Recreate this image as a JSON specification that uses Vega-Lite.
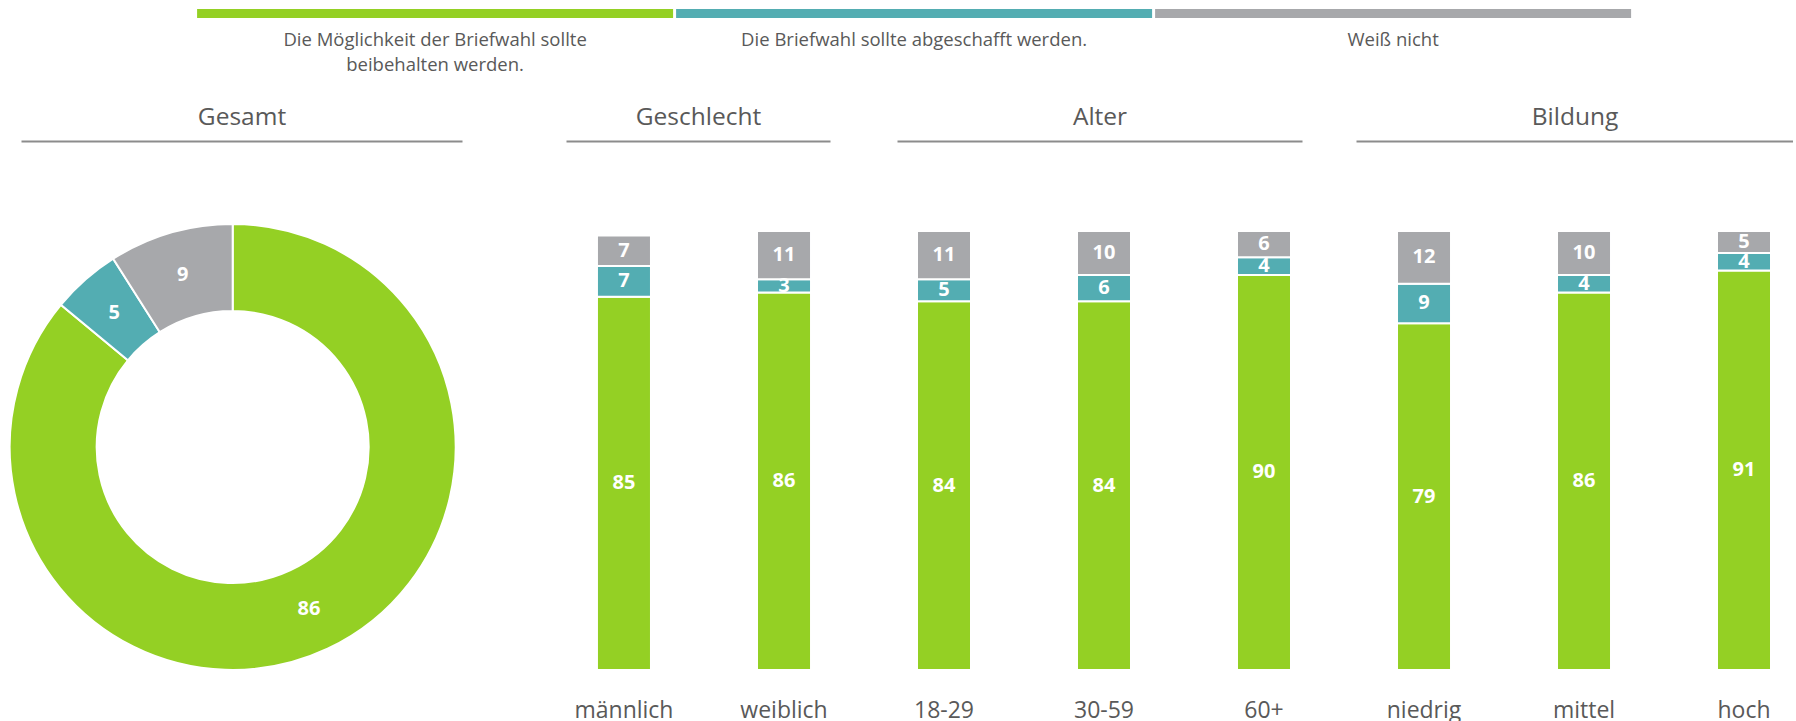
{
  "$schema": "https://vega.github.io/schema/vega-lite/v6.json",
  "background": "white",
  "padding": {"left": 5, "top": 9, "right": 0, "bottom": 0},
  "bounds": "flush",
  "spacing": 213,
  "config": {
    "view": {"stroke": null},
    "font": "Open Sans",
    "axis": {"labelFont": "Open Sans", "titleFont": "Open Sans", "labelColor": "#595959", "titleColor": "#595959", "titleFontWeight": "normal", "grid": false}
  },
  "datasets": {
    "gesamt": [
      {"antwort": "Die Möglichkeit der Briefwahl sollte beibehalten werden.", "wert": 86, "ord": 1},
      {"antwort": "Die Briefwahl sollte abgeschafft werden.", "wert": 5, "ord": 2},
      {"antwort": "Weiß nicht", "wert": 9, "ord": 3}
    ],
    "gruppen": [
      {"gruppe": "Geschlecht", "kat": "männlich", "antwort": "Die Möglichkeit der Briefwahl sollte beibehalten werden.", "wert": 85, "ord": 1},
      {"gruppe": "Geschlecht", "kat": "männlich", "antwort": "Die Briefwahl sollte abgeschafft werden.", "wert": 7, "ord": 2},
      {"gruppe": "Geschlecht", "kat": "männlich", "antwort": "Weiß nicht", "wert": 7, "ord": 3},
      {"gruppe": "Geschlecht", "kat": "weiblich", "antwort": "Die Möglichkeit der Briefwahl sollte beibehalten werden.", "wert": 86, "ord": 1},
      {"gruppe": "Geschlecht", "kat": "weiblich", "antwort": "Die Briefwahl sollte abgeschafft werden.", "wert": 3, "ord": 2},
      {"gruppe": "Geschlecht", "kat": "weiblich", "antwort": "Weiß nicht", "wert": 11, "ord": 3},
      {"gruppe": "Alter", "kat": "18-29", "antwort": "Die Möglichkeit der Briefwahl sollte beibehalten werden.", "wert": 84, "ord": 1},
      {"gruppe": "Alter", "kat": "18-29", "antwort": "Die Briefwahl sollte abgeschafft werden.", "wert": 5, "ord": 2},
      {"gruppe": "Alter", "kat": "18-29", "antwort": "Weiß nicht", "wert": 11, "ord": 3},
      {"gruppe": "Alter", "kat": "30-59", "antwort": "Die Möglichkeit der Briefwahl sollte beibehalten werden.", "wert": 84, "ord": 1},
      {"gruppe": "Alter", "kat": "30-59", "antwort": "Die Briefwahl sollte abgeschafft werden.", "wert": 6, "ord": 2},
      {"gruppe": "Alter", "kat": "30-59", "antwort": "Weiß nicht", "wert": 10, "ord": 3},
      {"gruppe": "Alter", "kat": "60+", "antwort": "Die Möglichkeit der Briefwahl sollte beibehalten werden.", "wert": 90, "ord": 1},
      {"gruppe": "Alter", "kat": "60+", "antwort": "Die Briefwahl sollte abgeschafft werden.", "wert": 4, "ord": 2},
      {"gruppe": "Alter", "kat": "60+", "antwort": "Weiß nicht", "wert": 6, "ord": 3},
      {"gruppe": "Bildung", "kat": "niedrig", "antwort": "Die Möglichkeit der Briefwahl sollte beibehalten werden.", "wert": 79, "ord": 1},
      {"gruppe": "Bildung", "kat": "niedrig", "antwort": "Die Briefwahl sollte abgeschafft werden.", "wert": 9, "ord": 2},
      {"gruppe": "Bildung", "kat": "niedrig", "antwort": "Weiß nicht", "wert": 12, "ord": 3},
      {"gruppe": "Bildung", "kat": "mittel", "antwort": "Die Möglichkeit der Briefwahl sollte beibehalten werden.", "wert": 86, "ord": 1},
      {"gruppe": "Bildung", "kat": "mittel", "antwort": "Die Briefwahl sollte abgeschafft werden.", "wert": 4, "ord": 2},
      {"gruppe": "Bildung", "kat": "mittel", "antwort": "Weiß nicht", "wert": 10, "ord": 3},
      {"gruppe": "Bildung", "kat": "hoch", "antwort": "Die Möglichkeit der Briefwahl sollte beibehalten werden.", "wert": 91, "ord": 1},
      {"gruppe": "Bildung", "kat": "hoch", "antwort": "Die Briefwahl sollte abgeschafft werden.", "wert": 4, "ord": 2},
      {"gruppe": "Bildung", "kat": "hoch", "antwort": "Weiß nicht", "wert": 5, "ord": 3}
    ]
  },
  "vconcat": [
    {
      "width": 1772,
      "height": 9,
      "data": {"name": "gesamt"},
      "mark": {"type": "bar"},
      "encoding": {
        "x": {"field": "antwort", "type": "nominal", "sort": null,
          "scale": {"paddingInner": 0.00626, "paddingOuter": 0.3528, "align": 0.521},
          "axis": {"title": null, "domain": false, "ticks": false, "labelPadding": 12, "labelFontSize": 18.5, "labelLimit": 1000, "labelAngle": 0, "labelLineHeight": 25,
            "labelExpr": "datum.label == 'Die Möglichkeit der Briefwahl sollte beibehalten werden.' ? ['Die Möglichkeit der Briefwahl sollte', 'beibehalten werden.'] : datum.label"}},
        "color": {"field": "antwort", "type": "nominal", "legend": null,
          "scale": {"domain": ["Die Möglichkeit der Briefwahl sollte beibehalten werden.", "Die Briefwahl sollte abgeschafft werden.", "Weiß nicht"], "range": ["#94D024", "#53ADB2", "#A7A8AB"]}}
      }
    },
    {
      "hconcat": [
        {
          "width": 441,
          "height": 432,
          "data": {"name": "gesamt"},
          "layer": [
            {
              "mark": {"type": "arc", "outerRadius": 223, "innerRadius": 136, "stroke": "white", "strokeWidth": 2},
              "encoding": {
                "x": {"datum": 0.48, "type": "quantitative", "scale": {"domain": [0, 1], "nice": false},
                  "axis": {"orient": "top", "title": "Gesamt", "labels": false, "ticks": false, "grid": false, "domainColor": "#8C8C8C", "domainWidth": 2, "offset": 90, "titleFontSize": 24.5, "titlePadding": 12}},
                "theta": {"field": "wert", "type": "quantitative", "stack": true},
                "color": {"field": "antwort", "type": "nominal", "legend": null},
                "order": {"field": "ord", "type": "quantitative"}
              }
            },
            {
              "mark": {"type": "text", "radius": 179, "color": "white", "fontWeight": "bold", "fontSize": 20, "font": "Open Sans"},
              "encoding": {
                "x": {"datum": 0.48, "type": "quantitative"},
                "theta": {"field": "wert", "type": "quantitative", "stack": true},
                "text": {"field": "wert", "type": "quantitative"},
                "order": {"field": "ord", "type": "quantitative"}
              }
            }
          ]
        },
        {
          "hconcat": [
            {
              "width": 264,
              "height": 439,
              "data": {"name": "gruppen"},
              "transform": [{"filter": "datum.gruppe === 'Geschlecht'"}],
              "layer": [
                {
                  "mark": {"type": "bar", "stroke": "white", "strokeWidth": 2},
                  "encoding": {
                    "x": {"field": "kat", "type": "nominal", "sort": null,
                      "scale": {"paddingInner": 0.6625, "paddingOuter": 0.156, "align": 0.62},
                      "axis": {"orient": "bottom", "title": null, "domain": false, "ticks": false, "labelPadding": 29, "labelFontSize": 23, "labelAngle": 0}},
                    "y": {"field": "wert", "type": "quantitative", "stack": "zero", "scale": {"domain": [0, 100], "nice": false}, "axis": null},
                    "color": {"field": "antwort", "type": "nominal", "legend": null},
                    "order": {"field": "ord", "type": "quantitative"}
                  }
                },
                {
                  "mark": {"type": "text", "color": "white", "fontWeight": "bold", "fontSize": 20, "font": "Open Sans"},
                  "encoding": {
                    "x": {"field": "kat", "type": "nominal", "sort": null,
                      "axis": {"orient": "top", "title": "Geschlecht", "labels": false, "ticks": false, "domainColor": "#8C8C8C", "domainWidth": 2, "offset": 90, "titleFontSize": 24.5, "titlePadding": 12}},
                    "y": {"field": "wert", "type": "quantitative", "stack": "zero", "bandPosition": 0.5},
                    "text": {"field": "wert", "type": "quantitative"},
                    "order": {"field": "ord", "type": "quantitative"}
                  }
                }
              ],
              "resolve": {"axis": {"x": "independent"}}
            },
            {
              "hconcat": [
                {
                  "width": 405,
                  "height": 439,
                  "data": {"name": "gruppen"},
                  "transform": [{"filter": "datum.gruppe === 'Alter'"}],
                  "layer": [
                    {
                      "mark": {"type": "bar", "stroke": "white", "strokeWidth": 2},
                      "encoding": {
                        "x": {"field": "kat", "type": "nominal", "sort": null,
                          "scale": {"paddingInner": 0.6625, "paddingOuter": 0.0969, "align": 0.645},
                          "axis": {"orient": "bottom", "title": null, "domain": false, "ticks": false, "labelPadding": 29, "labelFontSize": 23, "labelAngle": 0}},
                        "y": {"field": "wert", "type": "quantitative", "stack": "zero", "scale": {"domain": [0, 100], "nice": false}, "axis": null},
                        "color": {"field": "antwort", "type": "nominal", "legend": null},
                        "order": {"field": "ord", "type": "quantitative"}
                      }
                    },
                    {
                      "mark": {"type": "text", "color": "white", "fontWeight": "bold", "fontSize": 20, "font": "Open Sans"},
                      "encoding": {
                        "x": {"field": "kat", "type": "nominal", "sort": null,
                          "axis": {"orient": "top", "title": "Alter", "labels": false, "ticks": false, "domainColor": "#8C8C8C", "domainWidth": 2, "offset": 90, "titleFontSize": 24.5, "titlePadding": 12}},
                        "y": {"field": "wert", "type": "quantitative", "stack": "zero", "bandPosition": 0.5},
                        "text": {"field": "wert", "type": "quantitative"},
                        "order": {"field": "ord", "type": "quantitative"}
                      }
                    }
                  ],
                  "resolve": {"axis": {"x": "independent"}}
                },
                {
                  "width": 437,
                  "height": 439,
                  "data": {"name": "gruppen"},
                  "transform": [{"filter": "datum.gruppe === 'Bildung'"}],
                  "layer": [
                    {
                      "mark": {"type": "bar", "stroke": "white", "strokeWidth": 2},
                      "encoding": {
                        "x": {"field": "kat", "type": "nominal", "sort": null,
                          "scale": {"paddingInner": 0.6625, "paddingOuter": 0.1969, "align": 0.651},
                          "axis": {"orient": "bottom", "title": null, "domain": false, "ticks": false, "labelPadding": 29, "labelFontSize": 23, "labelAngle": 0}},
                        "y": {"field": "wert", "type": "quantitative", "stack": "zero", "scale": {"domain": [0, 100], "nice": false}, "axis": null},
                        "color": {"field": "antwort", "type": "nominal", "legend": null},
                        "order": {"field": "ord", "type": "quantitative"}
                      }
                    },
                    {
                      "mark": {"type": "text", "color": "white", "fontWeight": "bold", "fontSize": 20, "font": "Open Sans"},
                      "encoding": {
                        "x": {"field": "kat", "type": "nominal", "sort": null,
                          "axis": {"orient": "top", "title": "Bildung", "labels": false, "ticks": false, "domainColor": "#8C8C8C", "domainWidth": 2, "offset": 90, "titleFontSize": 24.5, "titlePadding": 12}},
                        "y": {"field": "wert", "type": "quantitative", "stack": "zero", "bandPosition": 0.5},
                        "text": {"field": "wert", "type": "quantitative"},
                        "order": {"field": "ord", "type": "quantitative"}
                      }
                    }
                  ],
                  "resolve": {"axis": {"x": "independent"}}
                }
              ],
              "spacing": 54,
              "bounds": "flush"
            }
          ],
          "spacing": 67,
          "bounds": "flush"
        }
      ],
      "spacing": 104,
      "bounds": "flush"
    }
  ]
}
